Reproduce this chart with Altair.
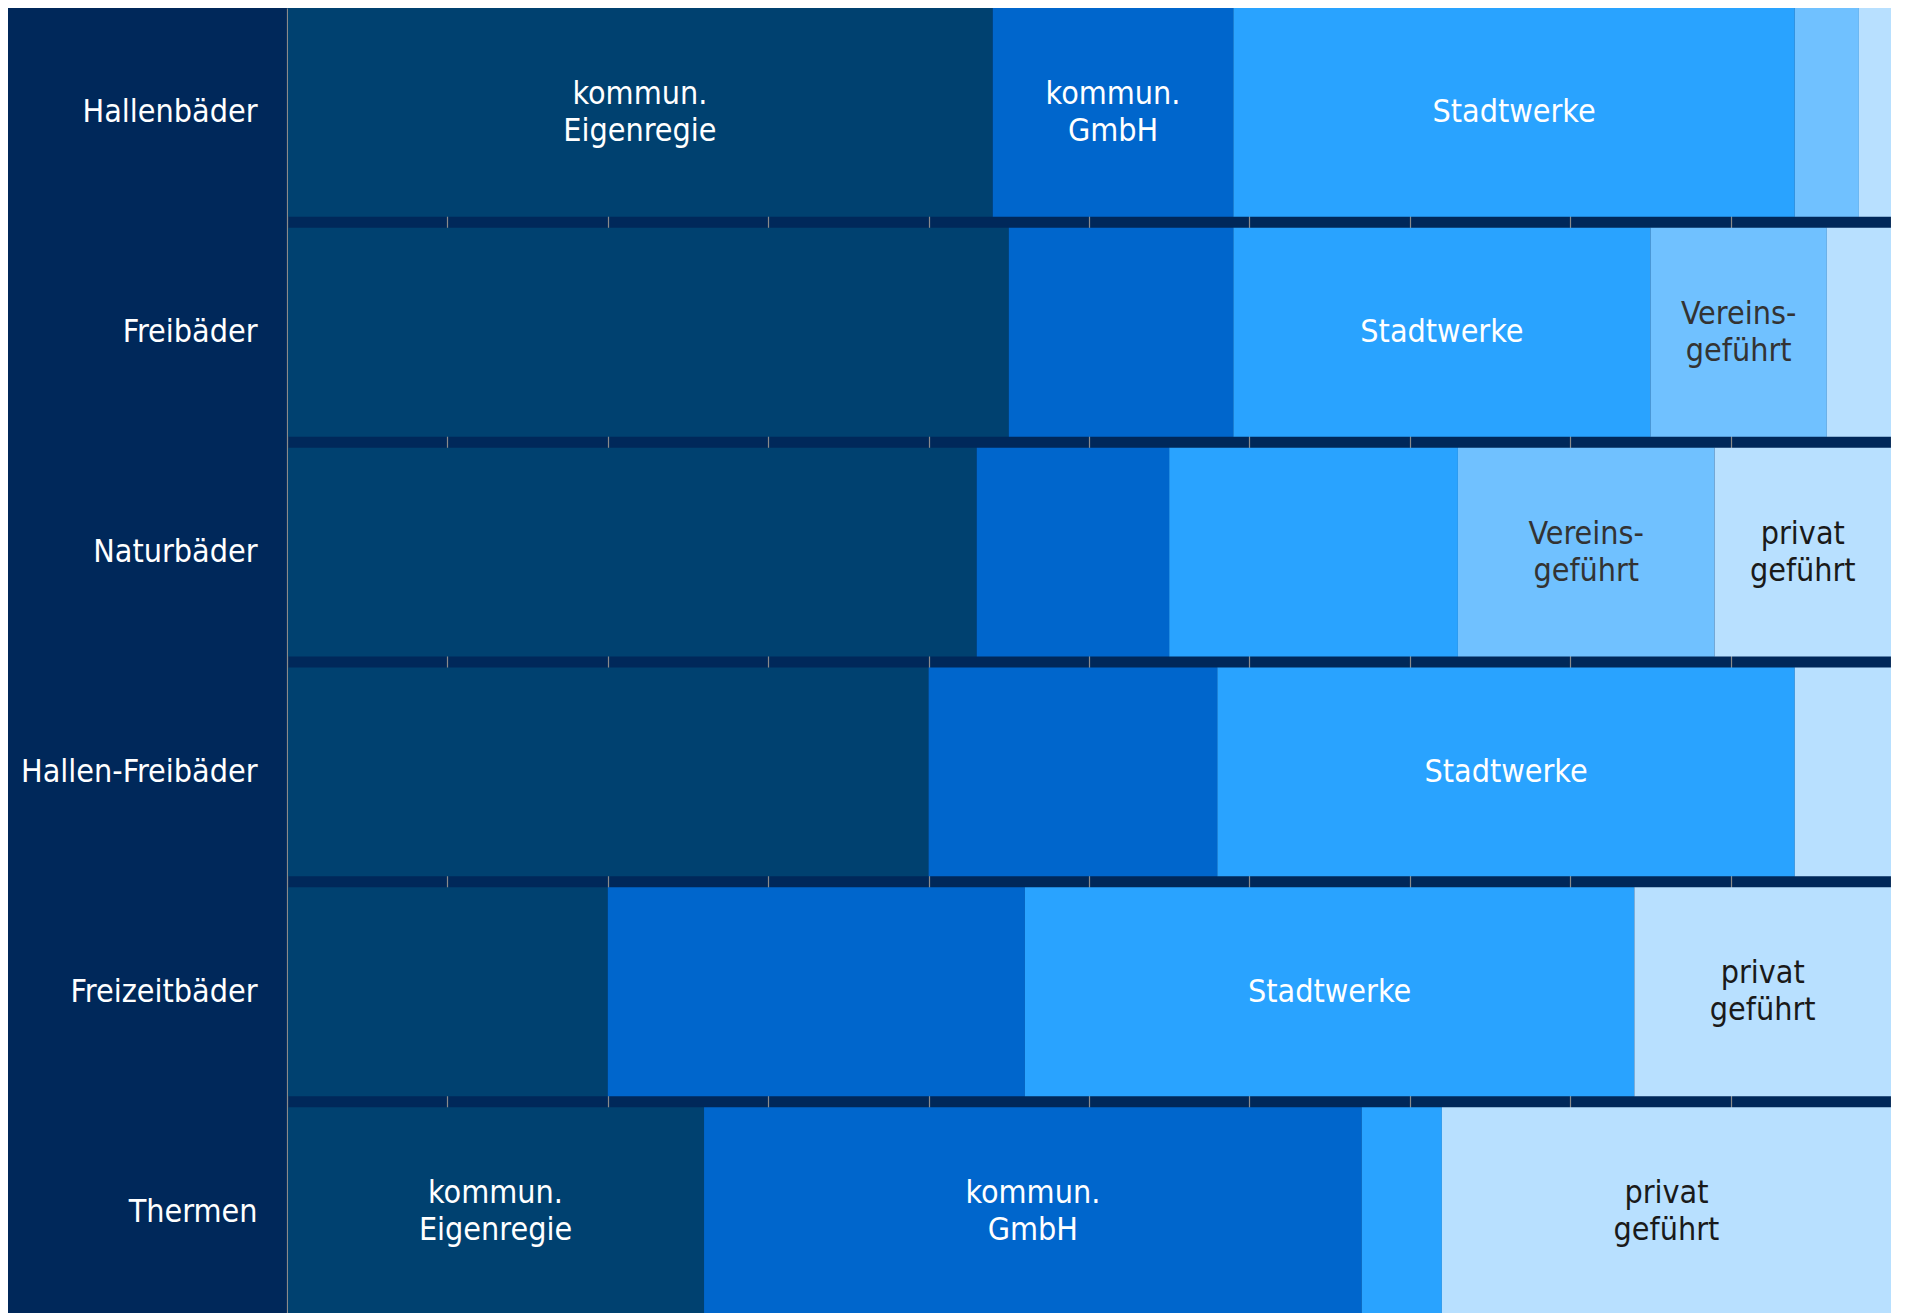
import altair as alt
import pandas as pd

# ---- data (percent shares) ----
categories = ["Hallenbäder", "Freibäder", "Naturbäder", "Hallen-Freibäder", "Freizeitbäder", "Thermen"]
types = ["kommun. Eigenregie", "kommun. GmbH", "Stadtwerke", "Vereinsgeführt", "privat geführt"]
eigenregie = [44, 45, 43, 40, 20, 26]
gmbh = [15, 14, 12, 18, 26, 41]
stadtwerke = [35, 26, 18, 36, 38, 5]
verein = [4, 11, 16, 0, 0, 0]
privat = [2, 4, 11, 6, 16, 28]
label_lines = [["kommun.", "Eigenregie"], ["kommun.", "GmbH"], ["Stadtwerke"],
               ["Vereins-", "geführt"], ["privat", "geführt"]]
labeled = [
    [1, 1, 1, 0, 0],
    [0, 0, 1, 1, 0],
    [0, 0, 0, 1, 1],
    [0, 0, 1, 0, 0],
    [0, 0, 1, 0, 1],
    [1, 1, 0, 0, 1],
]

colors = ["#004170", "#0066CC", "#29A3FF", "#70C1FF", "#B8E0FF"]
text_colors = ["#FFFFFF", "#FFFFFF", "#FFFFFF", "#333333", "#1A1A1A"]
BG = "#00285A"
FONT = "DejaVu Sans Condensed"
FS = 32
LH = 37

series = [eigenregie, gmbh, stadtwerke, verein, privat]
rows = []
for ci, cat in enumerate(categories):
    cum = 0
    for ti, t in enumerate(types):
        v = series[ti][ci]
        lines = label_lines[ti] if labeled[ci][ti] else [""]
        rows.append({
            "cat": cat, "type": t, "value": v,
            "start": cum, "end": cum + v, "mid": cum + v / 2,
            "lines": lines, "nlines": len(lines),
            "tcolor": text_colors[ti],
        })
        cum += v
df = pd.DataFrame(rows)
df = df[df["value"] > 0]
df_one = df[df["nlines"] == 1]
df_two = df[df["nlines"] == 2]

y_enc = alt.Y("cat:N", sort=categories,
              scale=alt.Scale(paddingInner=0.05, paddingOuter=0),
              axis=alt.Axis(title=None, ticks=False, labelPadding=30, labelLimit=400,
                            labelFontSize=FS, labelColor="#FFFFFF", labelFont=FONT,
                            domain=True, domainColor="#8A8A8A", domainWidth=1,
                            minExtent=279, maxExtent=279, zindex=1))

x_scale = alt.Scale(domain=[0, 100], nice=False)

bars = alt.Chart(df).mark_bar(cornerRadius=0).encode(
    x=alt.X("start:Q", scale=x_scale,
            axis=alt.Axis(title=None, labels=False, ticks=False, domain=False,
                          grid=True, gridColor="#8A8A8A", gridWidth=1.2,
                          values=list(range(0, 101, 10)))),
    x2="end:Q",
    y=y_enc,
    color=alt.Color("type:N", scale=alt.Scale(domain=types, range=colors), legend=None),
)


def text_layer(data, dy):
    return alt.Chart(data).mark_text(fontSize=FS, font=FONT, align="center",
                                     baseline="middle", lineHeight=LH, dy=dy).encode(
        x=alt.X("mid:Q", scale=x_scale),
        y=alt.Y("cat:N", sort=categories),
        text=alt.Text("lines"),
        color=alt.Color("tcolor:N", scale=None),
    )


texts_one = text_layer(df_one, 0)
texts_two = text_layer(df_two, -LH / 2)

chart = (bars + texts_one + texts_two).properties(
    width=1604, height=1308, padding=0, background=BG
).configure_view(stroke=None)

chart.save("out.html", embed_options={"renderer": "svg", "actions": False})
